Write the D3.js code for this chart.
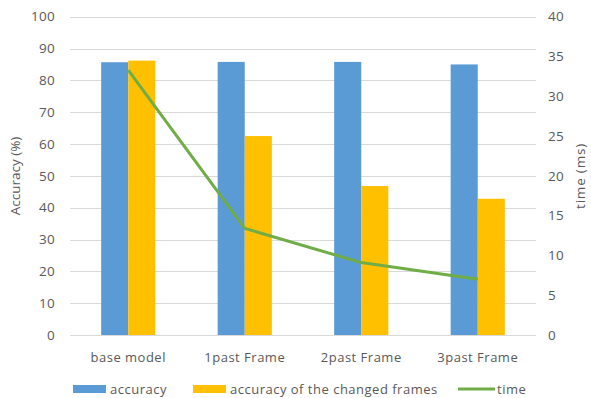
<!DOCTYPE html>
<html><head><meta charset="utf-8">
<script src="https://cdn.jsdelivr.net/npm/d3@7"></script>
<style>
html,body{margin:0;padding:0;background:#fff;}
text{font-family:"Open Sans","Liberation Sans",sans-serif;fill:#595959;}
</style></head>
<body><svg id="c" width="591" height="398"></svg>
<script>
const categories = ["base model", "1past Frame", "2past Frame", "3past Frame"];
const accuracy = [85.7, 85.8, 85.8, 85.0];
const changedAccuracy = [86.2, 62.5, 46.8, 42.8];
const timeMs = [33.3, 13.4, 9.1, 7.0];
const leftTicks = [0,10,20,30,40,50,60,70,80,90,100];
const rightTicks = [0,5,10,15,20,25,30,35,40];
const seriesNames = ["accuracy", "accuracy of the changed frames", "time"];
const colors = ["#5B9BD5", "#FFC000", "#70AD47"];

const svg = d3.select("#c");
const L = 70, R = 536, T = 16.7, B = 335;

const x = d3.scaleBand().domain(categories).range([L, R]).paddingInner(0.535).paddingOuter(0.2675);
const xs = d3.scaleBand().domain([0,1]).range([0, x.bandwidth()]);
const yL = d3.scaleLinear().domain([0,100]).range([B, T]);
const yR = d3.scaleLinear().domain([0,40]).range([B, T]);

// gridlines
svg.append("g").selectAll("line").data(leftTicks).join("line")
  .attr("x1", L).attr("x2", R)
  .attr("y1", d => Math.round(yL(d)) + 0.5).attr("y2", d => Math.round(yL(d)) + 0.5)
  .attr("stroke", "#D9D9D9").attr("stroke-width", 1);

// bars
const data = categories.map((c, i) => ({c, vals: [accuracy[i], changedAccuracy[i]]}));
const grp = svg.append("g").selectAll("g").data(data).join("g")
  .attr("transform", d => `translate(${x(d.c)},0)`);
grp.selectAll("rect").data(d => d.vals.map((v, k) => ({v, k}))).join("rect")
  .attr("x", d => xs(d.k)).attr("width", xs.bandwidth())
  .attr("y", d => yL(d.v)).attr("height", d => B - yL(d.v))
  .attr("fill", d => colors[d.k]);

// time line
const line = d3.line().x((d, i) => x(categories[i]) + x.bandwidth()/2).y(d => yR(d));
svg.append("path").datum(timeMs).attr("d", line)
  .attr("fill", "none").attr("stroke", colors[2]).attr("stroke-width", 3)
  .attr("stroke-linejoin", "round");

// left axis labels
svg.append("g").selectAll("text").data(leftTicks).join("text")
  .attr("x", 55).attr("y", d => yL(d)).attr("dy", "0.35em")
  .attr("text-anchor", "end").attr("font-size", 13.5).attr("letter-spacing", 0.3).text(d => d);
// right axis labels
svg.append("g").selectAll("text").data(rightTicks).join("text")
  .attr("x", 548).attr("y", d => yR(d)).attr("dy", "0.35em")
  .attr("text-anchor", "start").attr("font-size", 13.5).attr("letter-spacing", 0.3).text(d => d);

// category labels
svg.append("g").selectAll("text").data(categories).join("text")
  .attr("x", d => x(d) + x.bandwidth()/2).attr("y", 357).attr("dy", "0.35em")
  .attr("text-anchor", "middle").attr("font-size", 13).attr("letter-spacing", 0.5).text(d => d);

// axis titles
svg.append("text").attr("transform", "translate(15,176) rotate(-90)")
  .attr("text-anchor", "middle").attr("dy", "0.35em").attr("font-size", 13.5).text("Accuracy (%)");
svg.append("text").attr("transform", "translate(580,176) rotate(-90)")
  .attr("text-anchor", "middle").attr("dy", "0.35em").attr("font-size", 13.5).attr("letter-spacing", 0.8).text("time (ms)");

// legend
const legX = [73, 193, 458];
const lg = svg.append("g").selectAll("g").data(seriesNames).join("g")
  .attr("transform", (d, i) => `translate(${legX[i]},389)`);
lg.each(function(d, i) {
  const g = d3.select(this);
  if (i < 2) g.append("rect").attr("x", 0).attr("y", -4).attr("width", 33).attr("height", 8).attr("fill", colors[i]);
  else g.append("line").attr("x1", 0).attr("x2", 37).attr("y1", 0).attr("y2", 0).attr("stroke", colors[i]).attr("stroke-width", 3);
  g.append("text").attr("x", i < 2 ? 37 : 39).attr("y", 0).attr("dy", "0.35em")
    .attr("font-size", 13).attr("letter-spacing", 0.5).text(d);
});
</script></body></html>
